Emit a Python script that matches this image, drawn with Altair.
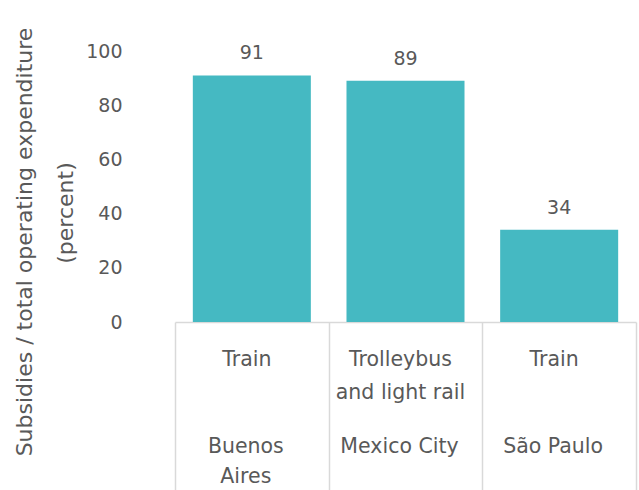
import altair as alt
import pandas as pd

# Data
modes = ["Train", "Trolleybus\nand light rail", "Train"]
cities = ["Buenos\nAires", "Mexico City", "São Paulo"]
values = [91, 89, 34]
title_lines = ["Subsidies / total operating expenditure", "(percent)"]

df = pd.DataFrame({"city": cities, "mode": modes, "value": values})

FONT = "DejaVu Sans"
GREY = "#595959"
LINE = "#D9D9D9"
BAR = "#45B9C2"

x = alt.X(
    "city:N",
    sort=None,
    title=None,
    scale=alt.Scale(paddingInner=0, paddingOuter=0),
    axis=alt.Axis(
        labels=False,
        tickBand="extent",
        tickSize=175,
        tickColor=LINE,
        tickWidth=1.5,
        domainColor=LINE,
        domainWidth=1.5,
    ),
)

y = alt.Y(
    "value:Q",
    scale=alt.Scale(domain=[0, 100]),
    axis=alt.Axis(
        values=[0, 20, 40, 60, 80, 100],
        title=None,
        labelFont=FONT,
        labelFontSize=19,
        labelColor=GREY,
        labelPadding=53,
        ticks=False,
        domain=False,
        grid=False,
    ),
)

xs = alt.X("city:N", sort=None)

bars = alt.Chart(df).mark_bar(color=BAR, width=alt.RelativeBandSize(0.768)).encode(x=x, y=y)
text = alt.Chart(df).mark_text(
    font=FONT, fontSize=19, color=GREY, baseline="bottom", dy=-12
).encode(x=xs, y="value:Q", text="value:Q")

mode_text = alt.Chart(df).mark_text(
    font=FONT, fontSize=20.5, color=GREY, baseline="top", lineBreak="\n",
    lineHeight=33, dx=-5,
).encode(x=xs, y=alt.value(299), text="mode:N")

city_text = alt.Chart(df).mark_text(
    font=FONT, fontSize=20.5, color=GREY, baseline="top", lineBreak="\n",
    lineHeight=30, dx=-6,
).encode(x=xs, y=alt.value(386), text="city:N")

title1 = alt.Chart(pd.DataFrame({"t": [title_lines[0]]})).mark_text(
    font=FONT, fontSize=22, color=GREY, angle=270, baseline="middle", align="center"
).encode(x=alt.value(-150), y=alt.value(191), text="t:N")

title2 = alt.Chart(pd.DataFrame({"t": [title_lines[1]]})).mark_text(
    font=FONT, fontSize=22, color=GREY, angle=270, baseline="middle", align="center"
).encode(x=alt.value(-109), y=alt.value(162), text="t:N")

chart = (
    alt.layer(bars, text, mode_text, city_text, title1, title2)
    .properties(
        width=461,
        height=271,
        autosize=alt.AutoSizeParams(type="none"),
        padding={"left": 175, "top": 51, "right": 3, "bottom": 168},
    )
    .configure(background="white")
    .configure_view(strokeWidth=0)
)

chart.save("out.html", embed_options={"renderer": "svg", "actions": False})
